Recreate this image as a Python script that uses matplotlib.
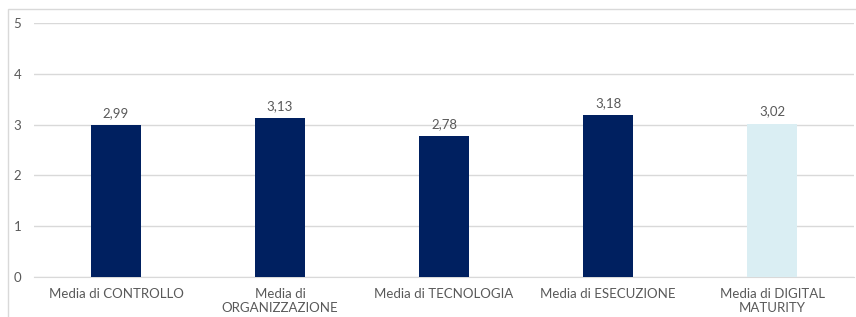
import matplotlib.pyplot as plt
from matplotlib.patches import Rectangle

categories = ["Media di CONTROLLO", "Media di\nORGANIZZAZIONE", "Media di TECNOLOGIA",
              "Media di ESECUZIONE", "Media di DIGITAL\nMATURITY"]
values = [2.99, 3.13, 2.78, 3.18, 3.02]
colors = ["#002060", "#002060", "#002060", "#002060", "#DAEEF3"]

textgray = "#595959"
gridgray = "#D9D9D9"

plt.rcParams["font.family"] = ["Lato", "DejaVu Sans"]

fig = plt.figure(figsize=(8.56, 3.17), dpi=100)
fig.patches.append(Rectangle((8 / 856, -0.1), 1.0, 1 - 9 / 317 + 0.1, transform=fig.transFigure,
                             fill=False, edgecolor=gridgray, linewidth=1))
ax = fig.add_axes([34 / 856, 1 - 277 / 317, 820 / 856, 254 / 317])

x = range(len(categories))
bars = ax.bar(x, values, width=0.31, color=colors, zorder=3)
for b, v in zip(bars, values):
    ax.text(b.get_x() + b.get_width() / 2, v + 0.12, f"{v:.2f}".replace(".", ","),
            ha="center", va="bottom", fontsize=9.5, color=textgray)

ax.set_xlim(-0.5, len(categories) - 0.5)
ax.set_ylim(0, 5)
ax.set_yticks(range(6))
ax.set_xticks(list(x))
ax.set_xticklabels(categories, fontsize=9.5, color=textgray, linespacing=1.2)
ax.tick_params(axis="y", labelsize=9.5, labelcolor=textgray, length=0, pad=9)
ax.tick_params(axis="x", length=0, pad=8)
ax.grid(axis="y", color=gridgray, linewidth=1, zorder=0)
for s in ["top", "right", "left"]:
    ax.spines[s].set_visible(False)
ax.spines["bottom"].set_color(gridgray)

fig.savefig("out.png", dpi=100)
